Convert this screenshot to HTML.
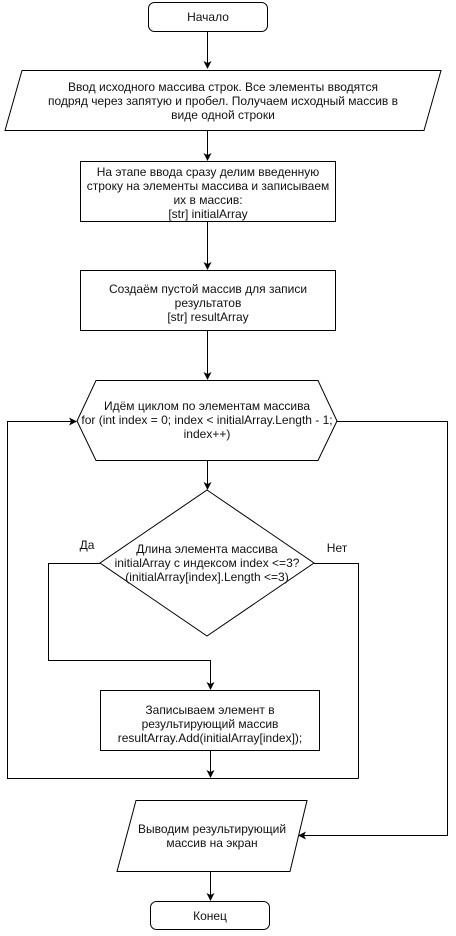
<!DOCTYPE html>
<html><head><meta charset="utf-8"><style>
html,body{margin:0;padding:0;background:#fff}
svg text{font-family:"Liberation Sans",Arial,sans-serif;font-size:12px;fill:#111}
</style></head><body>
<svg width="456" height="931" viewBox="0 0 456 931" xmlns="http://www.w3.org/2000/svg">
<defs><marker id="a" markerWidth="8" markerHeight="8" refX="7" refY="4" orient="auto" markerUnits="userSpaceOnUse"><path d="M0,0 L8,4 L0,8 L2,4 z" fill="#000"/></marker></defs>
<g fill="none" stroke="#000" stroke-width="1">
<rect x="148.5" y="2.5" width="119" height="29" rx="6"/>
<path d="M22,70.5 L441,70.5 L424,130.5 L5,130.5 Z"/>
<rect x="80.5" y="161.5" width="255" height="60"/>
<rect x="80.5" y="270.5" width="255" height="60"/>
<path d="M96,380.5 L318,380.5 L337,421 L318,460.5 L96,460.5 L77,421 Z"/>
<path d="M207,490 L314,563 L207,636 L100,563 Z"/>
<rect x="100.5" y="690.5" width="219" height="60"/>
<path d="M136,800.5 L307,800.5 L290,871.5 L117,871.5 Z"/>
<rect x="150.5" y="901.5" width="119" height="28" rx="6"/>
<path d="M207.5,31 L207.5,68" marker-end="url(#a)"/>
<path d="M207.5,131 L207.5,160" marker-end="url(#a)"/>
<path d="M207.5,222 L207.5,269" marker-end="url(#a)"/>
<path d="M207.5,331 L207.5,379" marker-end="url(#a)"/>
<path d="M207.5,461 L207.5,489" marker-end="url(#a)"/>
<path d="M100,563.5 L48.5,563.5 L48.5,660.5 L210.5,660.5 L210.5,689" marker-end="url(#a)"/>
<path d="M314,563.5 L358.5,563.5 L358.5,778.5"/>
<path d="M210.5,751 L210.5,777" marker-end="url(#a)"/>
<path d="M358.5,778.5 L7.5,778.5 L7.5,421.5 L76,421.5" marker-end="url(#a)"/>
<path d="M337,421.5 L447.5,421.5 L447.5,835.5 L299,835.5" marker-end="url(#a)"/>
<path d="M210.5,872 L210.5,900" marker-end="url(#a)"/>
</g>
<g text-anchor="middle">
<text x="223" y="91">Ввод исходного массива строк. Все элементы вводятся</text>
<text x="223" y="105">подряд через запятую и пробел. Получаем исходный массив в</text>
<text x="223" y="119">виде одной строки</text>
<text x="208" y="21">Начало</text>
<text x="208" y="176">На этапе ввода сразу делим введенную</text>
<text x="208" y="190">строку на элементы массива и записываем</text>
<text x="208" y="204">их в массив:</text>
<text x="208" y="218">[str] initialArray</text>
<text x="208" y="293">Создаём пустой массив для записи</text>
<text x="208" y="307">результатов</text>
<text x="208" y="321">[str] resultArray</text>
<text x="207" y="410">Идём циклом по элементам массива</text>
<text x="207" y="424">for (int index = 0; index &lt; initialArray.Length - 1;</text>
<text x="207" y="438">index++)</text>
<text x="207" y="553">Длина элемента массива</text>
<text x="207" y="567">initialArray с индексом index &lt;=3?</text>
<text x="207" y="581">(initialArray[index].Length &lt;=3)</text>
<text x="87" y="549">Да</text>
<text x="337" y="552">Нет</text>
<text x="210" y="714">Записываем элемент в</text>
<text x="210" y="728">результирующий массив</text>
<text x="210" y="742">resultArray.Add(initialArray[index]);</text>
<text x="212" y="833">Выводим результирующий</text>
<text x="212" y="847">массив на экран</text>
<text x="210" y="920">Конец</text>
</g>
</svg>
</body></html>
